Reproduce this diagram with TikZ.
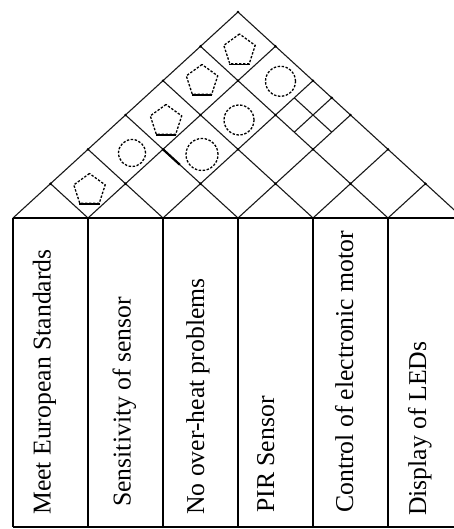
\documentclass[tikz,border=0pt]{standalone}
\usepackage{fontspec}
\setmainfont{Liberation Serif}
\usetikzlibrary{shapes.geometric,calc}
\begin{document}
\begin{tikzpicture}[x=1pt,y=1pt,
  gridline/.style={line width=1.1pt, black!90},
  boxline/.style={line width=1.5pt, black},
  lab/.style={rotate=90, anchor=base west, inner sep=0pt, font=\fontsize{25.7}{26}\selectfont},
  symdash/.style={draw, line width=1.3pt, dash pattern=on 2.4pt off 1.6pt},
  pent/.style={regular polygon, regular polygon sides=5, minimum size=33pt, inner sep=0pt, symdash},
  circ/.style={circle, minimum size=30pt, inner sep=0pt, symdash},
  vdot/.style={circle, fill, inner sep=0pt, minimum size=2.8pt}]
\useasboundingbox (0,0) rectangle (454,529);
\clip (0,0) rectangle (454,529);
\fill[white] (0,0) rectangle (454,529);
% roof vertices v(i)(j): crossing of the rising line from base point i and the falling line from base point j
\foreach \i in {0,...,6}{
  \foreach \j in {\i,...,6}{
    \coordinate (v\i\j) at ({13+37.5*(\i+\j)},{311+34.333*(\j-\i)});
  }
}
\foreach \k in {0,...,6}{
  \coordinate (b\k) at ({13+75*\k},2);
}
% roof grid
\foreach \k in {0,...,5} \draw[gridline] (v\k\k) -- (v\k6);
\foreach \k in {1,...,6} \draw[gridline] (v\k\k) -- (v0\k);
% subdivided cell
\coordinate (m1) at ($(v26)!0.5!(v25)$);
\coordinate (m2) at ($(v36)!0.5!(v35)$);
\coordinate (m3) at ($(v26)!0.5!(v36)$);
\coordinate (m4) at ($(v25)!0.5!(v35)$);
\draw[gridline] (m1) -- (m2);
\draw[gridline] (m3) -- (m4);
\draw[line width=2.2pt] (v13) -- ($(v13)!0.45!(v23)$);
% vertex dots
\foreach \i in {0,...,5}{
  \pgfmathtruncatemacro{\jstart}{\i+1}
  \foreach \j in {\jstart,...,6}{
    \node[vdot] at (v\i\j) {};
  }
}
\node[vdot] at (m3) {};
% boxes
\draw[boxline] (v00) -- (v66);
\draw[boxline] (b0) -- (b6);
\foreach \k in {0,...,5} \draw[boxline] (v\k\k) -- (b\k);
% labels
\node[lab] (l0) at (50.5,14) {Meet European Standards};
\node[lab] (l1) at (130.5,22) {Sensitivity of sensor};
\node[lab] (l2) at (204,14) {No over-heat problems};
\node[lab] (l3) at (274,16) {PIR Sensor};
\node[lab] (l4) at (353,16) {Control of electronic motor};
\node[lab] (l5) at (426,13) {Display of LEDs};
% symbols
\node[pent] (p05) at (239.5,478.5) {};
\node[pent] (p04) at (202,448) {};
\node[pent] (p03) at (166,408) {};
\node[pent] (p01) at (89.5,339) {};
\foreach \p in {p05,p04,p03,p01} \draw[line width=1.5pt] (\p.corner 3) -- (\p.corner 4);
\node[circ] (c15) at (280.5,447.7) {};
\node[circ] (c14) at (239,409) {};
\node[circ, minimum size=27pt] (c02) at (132,376) {};
\node[circ, minimum size=32pt] (c13) at (202,374.5) {};
\end{tikzpicture}
\end{document}
